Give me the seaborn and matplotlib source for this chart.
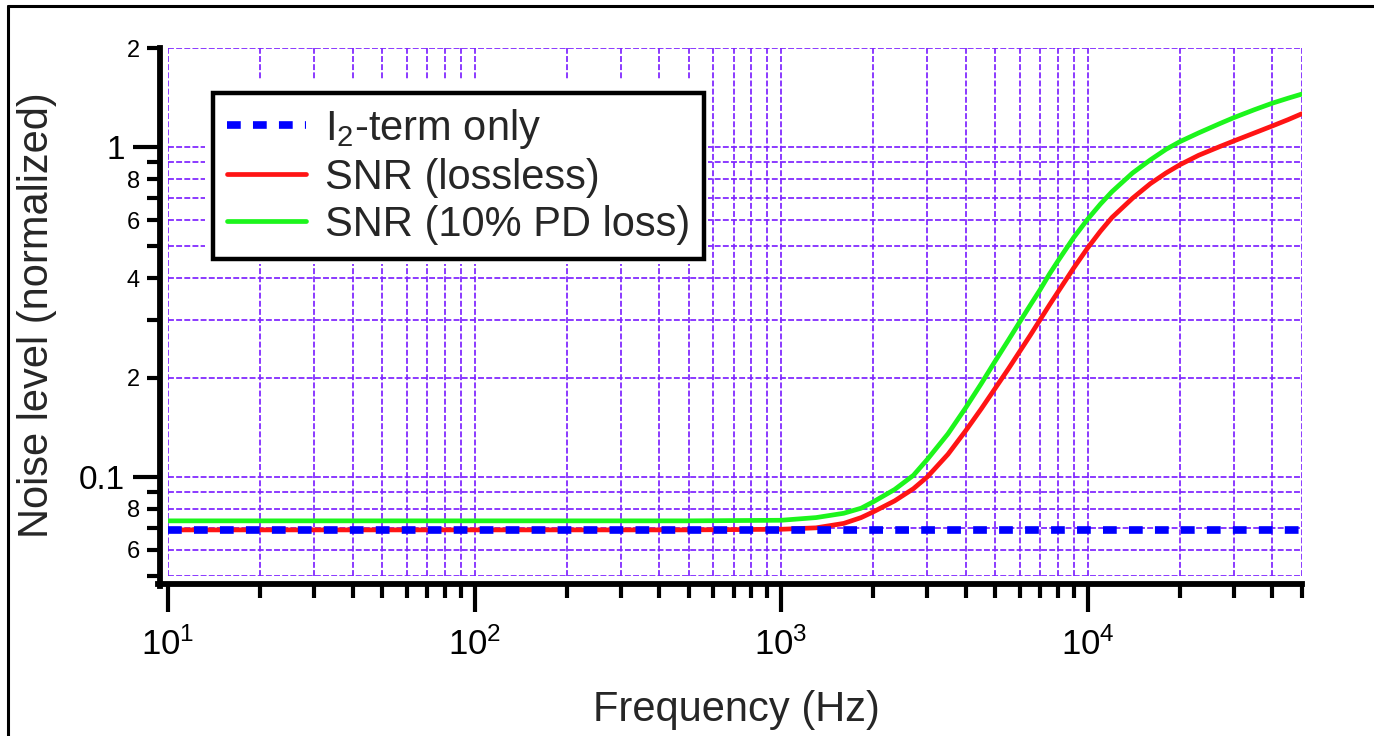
import matplotlib
matplotlib.use('Agg')
import matplotlib.pyplot as plt
import seaborn as sns
from matplotlib.ticker import FixedLocator, FixedFormatter, NullFormatter
from matplotlib.patches import Rectangle
from matplotlib.lines import Line2D

# values (Hz, normalized noise)
freq = [10, 100, 500, 1000, 1300, 1600, 1824, 2000, 2345, 2700, 3000,
        3500, 4000, 4500, 5000, 5500, 6000, 6500, 7000, 7500, 8000, 9000,
        10000, 11000, 12000, 14000, 16000, 18000, 20000, 23000, 27000,
        30000, 35000, 40000, 45000, 50000]
snr_lossless = [0.069, 0.069, 0.069, 0.0693, 0.0700, 0.0722, 0.0752, 0.0783,
                0.0845, 0.092, 0.100, 0.117, 0.138, 0.161, 0.186, 0.212,
                0.240, 0.269, 0.300, 0.332, 0.364, 0.430, 0.495, 0.556,
                0.612, 0.700, 0.775, 0.835, 0.885, 0.945, 1.005, 1.045,
                1.105, 1.160, 1.212, 1.264]
snr_pd_loss = [0.0735, 0.0735, 0.0735, 0.0738, 0.0752, 0.0775, 0.0803, 0.084,
               0.0915, 0.101, 0.113, 0.135, 0.162, 0.192, 0.225, 0.259,
               0.295, 0.332, 0.370, 0.412, 0.452, 0.532, 0.605, 0.672,
               0.733, 0.835, 0.915, 0.985, 1.040, 1.105, 1.180, 1.230,
               1.300, 1.360, 1.408, 1.450]
i2_freq = [10, 50000]
i2_only = [0.069, 0.069]

x_major = [10, 100, 1000, 10000]
x_major_labels = ['$10^{1}$', '$10^{2}$', '$10^{3}$', '$10^{4}$']
x_minor = [20, 30, 40, 50, 60, 70, 80, 90,
           200, 300, 400, 500, 600, 700, 800, 900,
           2000, 3000, 4000, 5000, 6000, 7000, 8000, 9000,
           20000, 30000, 40000, 50000]
y_major = [0.1, 1]
y_major_labels = ['0.1', '1']
y_minor = [0.05, 0.06, 0.07, 0.08, 0.09, 0.2, 0.3, 0.4, 0.5, 0.6, 0.7, 0.8, 0.9, 2]
y_minor_labels = ['', '6', '', '8', '', '2', '', '4', '', '6', '', '8', '', '2']

sns.set_style('white')
plt.rcParams['font.family'] = ['Liberation Sans', 'DejaVu Sans']
plt.rcParams['mathtext.fontset'] = 'custom'
plt.rcParams['mathtext.rm'] = 'Liberation Sans'
plt.rcParams['mathtext.it'] = 'Liberation Sans:italic'
plt.rcParams['mathtext.default'] = 'regular'

fig = plt.figure(figsize=(13.74, 7.36), dpi=100)
ax = fig.add_axes([168 / 1374, 1 - 576 / 736, 1134 / 1374, 528 / 736])

sns.lineplot(x=freq, y=snr_lossless, color='#ff1414', lw=3.4, ax=ax,
             label='SNR (lossless)', zorder=3)
sns.lineplot(x=freq, y=snr_pd_loss, color='#1cf51c', lw=3.4, ax=ax,
             label='SNR (10% PD loss)', zorder=3)
sns.lineplot(x=i2_freq, y=i2_only, color='#0000ff', lw=5.5, ax=ax,
             linestyle=(0, (1.8, 1.6)), label='I$_2$-term only', zorder=4)

ax.set_xscale('log')
ax.set_yscale('log')
ax.set_xlim(10, 50000)
ax.set_ylim(0.05, 2)

ax.xaxis.set_major_locator(FixedLocator(x_major))
ax.xaxis.set_major_formatter(FixedFormatter(x_major_labels))
ax.xaxis.set_minor_locator(FixedLocator(x_minor))
ax.xaxis.set_minor_formatter(NullFormatter())
ax.yaxis.set_major_locator(FixedLocator(y_major))
ax.yaxis.set_major_formatter(FixedFormatter(y_major_labels))
ax.yaxis.set_minor_locator(FixedLocator(y_minor))
ax.yaxis.set_minor_formatter(FixedFormatter(y_minor_labels))

ax.set_axisbelow(True)
ax.grid(True, which='both', color='#7d22ff', lw=1.25, ls=(0, (3.4, 1.3)))

for side in ['top', 'right']:
    ax.spines[side].set_visible(False)
for side in ['left', 'bottom']:
    ax.spines[side].set_position(('outward', 5.8))
    ax.spines[side].set_linewidth(4.2)
    ax.spines[side].set_color('black')
ax.spines['left'].set_bounds(0.0465, 2)
ax.spines['bottom'].set_bounds(9.25, 50000)

ax.tick_params(which='both', bottom=True, left=True, top=False, right=False)
ax.tick_params(axis='x', which='major', direction='out', length=20, width=3,
               labelsize=25, pad=11, colors='black')
ax.tick_params(axis='x', which='minor', direction='out', length=10, width=3,
               colors='black')
ax.tick_params(axis='y', which='major', direction='out', length=19.5, width=3,
               labelsize=24, pad=6, colors='black')
ax.tick_params(axis='y', which='minor', direction='out', length=9.5, width=3,
               labelsize=17, pad=5, colors='black')

ax.set_xlabel('Frequency (Hz)', fontsize=30, va='center')
ax.xaxis.set_label_coords(0.501, -0.254)
ax.set_ylabel('Noise level (normalized)', fontsize=30, va='center')
ax.yaxis.set_label_coords(-0.1155, 0.494)

# white margin behind the legend, as in the original
ax.add_patch(Rectangle(((205 - 168) / 1134, 1 - (264 - 48) / 528),
                       (708 - 205) / 1134, (264 - 80) / 528,
                       transform=ax.transAxes, facecolor='white',
                       edgecolor='none', zorder=1))

handles, labels = ax.get_legend_handles_labels()
order = [2, 0, 1]
leg = ax.legend([handles[i] for i in order], [labels[i] for i in order],
                loc='upper left', bbox_to_anchor=((213 - 168) / 1134, 1 - (93 - 48) / 528),
                borderaxespad=0, fontsize=30, frameon=True, fancybox=False,
                framealpha=1, edgecolor='black', handlelength=1.9,
                handletextpad=0.45, labelspacing=0.17, borderpad=0.33)
leg.get_frame().set_linewidth(3.2)
leg.set_zorder(5)

# page border of the original screenshot (left and top only)
fig.add_artist(Line2D([8 / 1374, 8 / 1374], [0, 1 - 6 / 736],
                      transform=fig.transFigure, color='black', lw=2.2))
fig.add_artist(Line2D([8 / 1374, 1], [1 - 6 / 736, 1 - 6 / 736],
                      transform=fig.transFigure, color='black', lw=2.2))

fig.savefig('out.png', dpi=100)
